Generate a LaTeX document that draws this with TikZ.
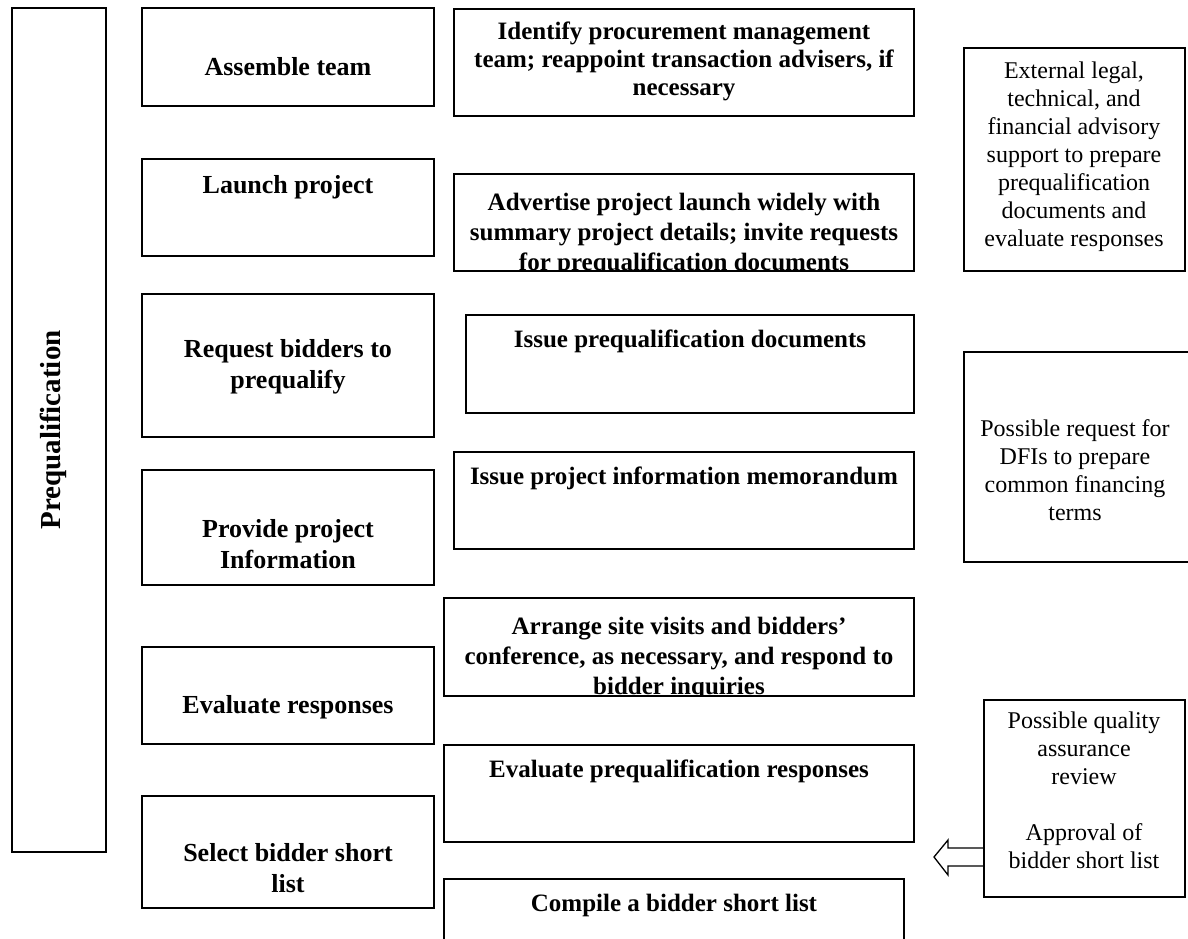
\documentclass[tikz,border=0pt]{standalone}
\usepackage{fontspec}
\setmainfont{Liberation Serif}
\begin{document}
\begin{tikzpicture}[x=1pt,y=-1pt,
  every node/.style={inner sep=0pt,outer sep=0pt},
  box/.style={draw,line width=1.6pt,rectangle,anchor=north west},
  lt/.style={font=\fontsize{26}{31}\selectfont\bfseries,align=center},
  bt/.style={font=\fontsize{25}{28}\selectfont\bfseries,align=center},
  ct/.style={font=\fontsize{25}{30}\selectfont\bfseries,align=center,anchor=north},
  rt/.style={font=\fontsize{24}{28}\selectfont,align=center},
  arrowline/.style={draw,line width=1.3pt,line join=miter}]
\clip (0,0) rectangle (1188,939);
% phase box
\node[box,minimum width=94,minimum height=844] (P) at (12,8) {};
\node[font=\fontsize{29}{34}\selectfont\bfseries,rotate=90,anchor=base] (Pt) at (60,430) {Prequalification};
% left column
\node[box,minimum width=292,minimum height=98]  (L1) at (142,8) {};
\node[box,minimum width=292,minimum height=97]  (L2) at (142,159) {};
\node[box,minimum width=292,minimum height=143] (L3) at (142,294) {};
\node[box,minimum width=292,minimum height=115] (L4) at (142,470) {};
\node[box,minimum width=292,minimum height=97]  (L5) at (142,647) {};
\node[box,minimum width=292,minimum height=112] (L6) at (142,796) {};
\node[lt] (L1t) at (288,67) {Assemble team};
\node[lt] (L2t) at (288,187) {Launch project};
\node[lt] (L3t) at (288,367) {Request bidders to\\prequalify};
\node[lt] (L4t) at (288,544) {Provide project\\Information};
\node[lt] (L5t) at (288,707) {Evaluate responses};
\node[lt] (L6t) at (288,868) {Select bidder short\\list};
% middle column
\node[box,minimum width=460,minimum height=107] (M1) at (454,9) {};
\node[box,minimum width=460,minimum height=97]  (M2) at (454,174) {};
\node[box,minimum width=448,minimum height=98]  (M3) at (466,315) {};
\node[box,minimum width=460,minimum height=97]  (M4) at (454,452) {};
\node[box,minimum width=470,minimum height=98]  (M5) at (444,598) {};
\node[box,minimum width=470,minimum height=97]  (M6) at (444,745) {};
\node[box,minimum width=460,minimum height=100] (M7) at (444,879) {};
\node[bt] (M1t) at (684,61) {Identify procurement management\\team; reappoint transaction advisers, if\\necessary};
\begin{scope}
  \clip (M2.north west) rectangle (M2.south east);
  \node[ct] (M2t) at (684,193) {Advertise project launch widely with\\summary project details; invite requests\\for prequalification documents};
\end{scope}
\node[bt] (M3t) at (690,341) {Issue prequalification documents};
\node[bt] (M4t) at (684,478) {Issue project information memorandum};
\begin{scope}
  \clip (M5.north west) rectangle (M5.south east);
  \node[ct] (M5t) at (679,617) {Arrange site visits and bidders'\\conference, as necessary, and respond to\\bidder inquiries};
\end{scope}
\node[bt] (M6t) at (679,771) {Evaluate prequalification responses};
\node[bt] (M7t) at (674,905) {Compile a bidder short list};
% right column
\node[box,minimum width=221,minimum height=223] (R1) at (964,48) {};
\node[box,minimum width=240,minimum height=210] (R2) at (964,352) {};
\node[box,minimum width=201,minimum height=197] (R3) at (984,700) {};
\node[rt] (R1t) at (1074,157) {External legal,\\technical, and\\financial advisory\\support to prepare\\prequalification\\documents and\\evaluate responses};
\node[rt] (R2t) at (1075,470) {Possible request for\\DFIs to prepare\\common financing\\terms};
\node[rt] (R3t) at (1084,790) {Possible quality\\assurance\\review\\[28pt]Approval of\\bidder short list};
% hollow arrow
\coordinate (atip) at (934,857);
\draw[arrowline] (R3.west |- atip) ++(0,-9) -- ++(-36,0) -- ++(0,-8) -- (atip) -- ++(14,18) -- ++(0,-9) -- ++(36,0);
\end{tikzpicture}
\end{document}
